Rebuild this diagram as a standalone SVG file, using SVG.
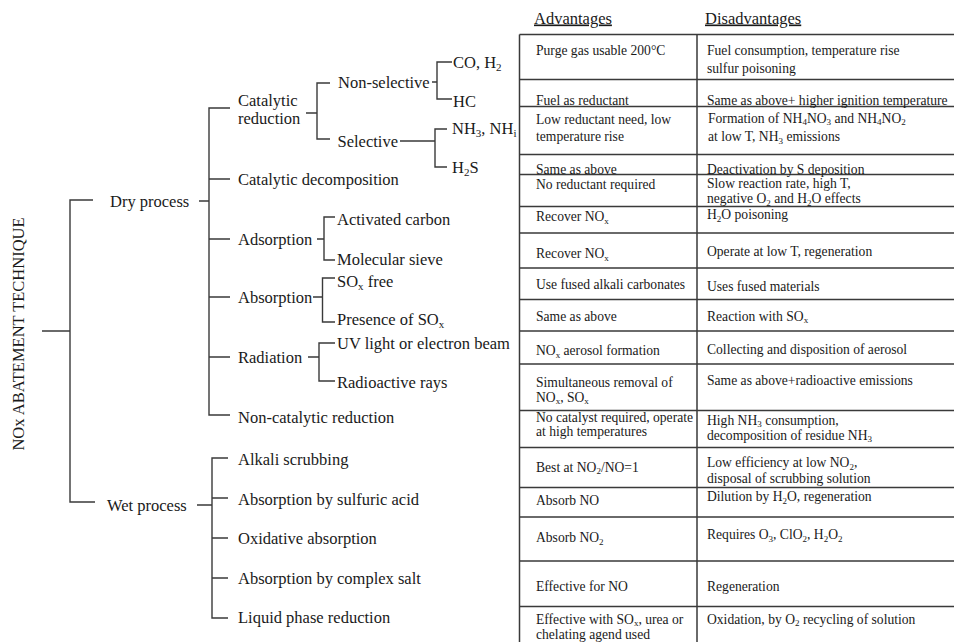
<svg xmlns="http://www.w3.org/2000/svg" width="954" height="642" viewBox="0 0 954 642">
<style>
text{font-family:"Liberation Serif","Times New Roman",serif;fill:#1a1a1a}
.t{font-size:16.5px}
.tb{font-size:13.6px}
.h{font-size:16.5px;text-decoration:underline}
.s{font-size:9px}
.st{font-size:11px}
.ln{fill:none;stroke:#3a3a3a;stroke-width:1.4}
.tl{fill:none;stroke:#3a3a3a;stroke-width:1.5}
</style>
<rect width="954" height="642" fill="#fff"/>

<g id="title"><text class="t" transform="translate(24,334) rotate(-90)" text-anchor="middle">NOx ABATEMENT TECHNIQUE</text></g>

<g id="connectors" class="ln">
<path d="M42,331H70M93,200H70V502H95"/>
<path d="M199,201H209M230,108H209V415H230M209,179H230M209,239H230M209,297H230M209,357H230"/>
<path d="M306,113H317M330,83H317V139H330"/>
<path d="M432,82H437M452,62H437V99H452"/>
<path d="M400,141H435M447,129H435V167H447"/>
<path d="M317,239H324M335,217H324V260H335"/>
<path d="M313,297H322.5M335,278H322.5V322H335"/>
<path d="M308,357H319M335,343H319V381H335"/>
<path d="M197,505H212M228,458H212V618H228M212,498H228M212,538H228M212,578H228"/>
</g>

<g id="dry"><text class="t" x="110" y="206.5">Dry process</text></g>
<g id="wet"><text class="t" x="107" y="510.5">Wet process</text></g>
<g id="catred"><text class="t" x="238" y="105.5">Catalytic</text><text class="t" x="238" y="123.5">reduction</text></g>
<g id="nonsel"><text class="t" x="338" y="87.5">Non-selective</text></g>
<g id="co"><text class="t" x="453" y="67.5">CO, H<tspan class="st" dy="3">2</tspan></text></g>
<g id="hc"><text class="t" x="453" y="106.5">HC</text></g>
<g id="sel"><text class="t" x="337.5" y="146.5">Selective</text></g>
<g id="nh3"><text class="t" x="452" y="133.5">NH<tspan class="st" dy="3">3</tspan><tspan dy="-3">, NH</tspan><tspan class="st" dy="3">i</tspan></text></g>
<g id="h2s"><text class="t" x="452" y="172.5">H<tspan class="st" dy="3">2</tspan><tspan dy="-3">S</tspan></text></g>
<g id="catdec"><text class="t" x="238" y="184.5">Catalytic decomposition</text></g>
<g id="adsorp"><text class="t" x="238" y="244.5">Adsorption</text></g>
<g id="actc"><text class="t" x="337" y="224.5">Activated carbon</text></g>
<g id="molsv"><text class="t" x="337" y="264.5">Molecular sieve</text></g>
<g id="absorp"><text class="t" x="238" y="302.5">Absorption</text></g>
<g id="soxfree"><text class="t" x="337" y="286.5">SO<tspan class="st" dy="3">x</tspan><tspan dy="-3"> free</tspan></text></g>
<g id="soxpres"><text class="t" x="337" y="324.5">Presence of SO<tspan class="st" dy="3">x</tspan></text></g>
<g id="radiation"><text class="t" x="238" y="362.5">Radiation</text></g>
<g id="uv"><text class="t" x="337" y="348.5">UV light or electron beam</text></g>
<g id="radrays"><text class="t" x="337" y="387.5">Radioactive rays</text></g>
<g id="noncat"><text class="t" x="238" y="422.5">Non-catalytic reduction</text></g>
<g id="alkali"><text class="t" x="238" y="465">Alkali scrubbing</text></g>
<g id="sulf"><text class="t" x="238" y="504.5">Absorption by sulfuric acid</text></g>
<g id="oxid"><text class="t" x="238" y="544">Oxidative absorption</text></g>
<g id="complex"><text class="t" x="238" y="583.5">Absorption by complex salt</text></g>
<g id="liquid"><text class="t" x="238" y="623">Liquid phase reduction</text></g>

<g id="table">
<path class="tl" d="M519.5,34.5V642M697,34.5V642"/>
<path class="tl" d="M519.5,34.5H954M519.5,79.5H954M519.5,106.5H954M519.5,154.5H954M519.5,174.5H954M519.5,206.5H954M519.5,233H954M519.5,268H954M519.5,299.5H954M519.5,331H954M519.5,364H954M519.5,410.5H954M519.5,447.5H954M519.5,487.5H954M519.5,517H954M519.5,561H954M519.5,606.5H954"/>
<text class="h" x="534" y="23.5">Advantages</text>
<text class="h" x="705" y="23.5">Disadvantages</text>

<text class="tb" x="536" y="55">Purge gas usable 200°C</text>
<text class="tb" x="707" y="54.5">Fuel consumption, temperature rise</text>
<text class="tb" x="707" y="72.5">sulfur poisoning</text>

<text class="tb" x="536" y="104.5">Fuel as reductant</text>
<text class="tb" x="707" y="104.5">Same as above+ higher ignition temperature</text>

<text class="tb" x="536" y="123.5">Low reductant need, low</text>
<text class="tb" x="536" y="140.5">temperature rise</text>
<text class="tb" x="708" y="122.5">Formation of NH<tspan class="s" dy="2.5">4</tspan><tspan dy="-2.5">NO</tspan><tspan class="s" dy="2.5">3</tspan><tspan dy="-2.5"> and NH</tspan><tspan class="s" dy="2.5">4</tspan><tspan dy="-2.5">NO</tspan><tspan class="s" dy="2.5">2</tspan></text>
<text class="tb" x="708" y="141">at low T, NH<tspan class="s" dy="2.5">3</tspan><tspan dy="-2.5"> emissions</tspan></text>

<text class="tb" x="536" y="173.5">Same as above</text>
<text class="tb" x="707" y="174">Deactivation by S deposition</text>

<text class="tb" x="536" y="189">No reductant required</text>
<text class="tb" x="707" y="188">Slow reaction rate, high T,</text>
<text class="tb" x="707" y="203">negative O<tspan class="s" dy="2.5">2</tspan><tspan dy="-2.5"> and H</tspan><tspan class="s" dy="2.5">2</tspan><tspan dy="-2.5">O effects</tspan></text>

<text class="tb" x="536" y="221">Recover NO<tspan class="s" dy="2.5">x</tspan></text>
<text class="tb" x="707" y="219">H<tspan class="s" dy="2.5">2</tspan><tspan dy="-2.5">O poisoning</tspan></text>

<text class="tb" x="536" y="258">Recover NO<tspan class="s" dy="2.5">x</tspan></text>
<text class="tb" x="707" y="256">Operate at low T, regeneration</text>

<text class="tb" x="536" y="289">Use fused alkali carbonates</text>
<text class="tb" x="707" y="291">Uses fused materials</text>

<text class="tb" x="536" y="320.5">Same as above</text>
<text class="tb" x="707" y="320.5">Reaction with SO<tspan class="s" dy="2.5">x</tspan></text>

<text class="tb" x="536" y="355">NO<tspan class="s" dy="2.5">x</tspan><tspan dy="-2.5"> aerosol formation</tspan></text>
<text class="tb" x="707" y="354">Collecting and disposition of aerosol</text>

<text class="tb" x="536" y="386.5">Simultaneous removal of</text>
<text class="tb" x="536" y="401.5">NO<tspan class="s" dy="2.5">x</tspan><tspan dy="-2.5">, SO</tspan><tspan class="s" dy="2.5">x</tspan></text>
<text class="tb" x="707" y="385">Same as above+radioactive emissions</text>

<text class="tb" x="536" y="421.5">No catalyst required, operate</text>
<text class="tb" x="536" y="436">at high temperatures</text>
<text class="tb" x="707" y="424.5">High NH<tspan class="s" dy="2.5">3</tspan><tspan dy="-2.5"> consumption,</tspan></text>
<text class="tb" x="707" y="439.5">decomposition of residue NH<tspan class="s" dy="2.5">3</tspan></text>

<text class="tb" x="536" y="471.5">Best at NO<tspan class="s" dy="2.5">2</tspan><tspan dy="-2.5">/NO=1</tspan></text>
<text class="tb" x="707" y="467">Low efficiency at low NO<tspan class="s" dy="2.5">2</tspan><tspan dy="-2.5">,</tspan></text>
<text class="tb" x="707" y="482.5">disposal of scrubbing solution</text>

<text class="tb" x="536" y="505">Absorb NO</text>
<text class="tb" x="707" y="501">Dilution by H<tspan class="s" dy="2.5">2</tspan><tspan dy="-2.5">O, regeneration</tspan></text>

<text class="tb" x="536" y="542">Absorb NO<tspan class="s" dy="2.5">2</tspan></text>
<text class="tb" x="707" y="539">Requires O<tspan class="s" dy="2.5">3</tspan><tspan dy="-2.5">, ClO</tspan><tspan class="s" dy="2.5">2</tspan><tspan dy="-2.5">, H</tspan><tspan class="s" dy="2.5">2</tspan><tspan dy="-2.5">O</tspan><tspan class="s" dy="2.5">2</tspan></text>

<text class="tb" x="536" y="591">Effective for NO</text>
<text class="tb" x="707" y="591">Regeneration</text>

<text class="tb" x="536" y="623.5">Effective with SO<tspan class="s" dy="2.5">x</tspan><tspan dy="-2.5">, urea or</tspan></text>
<text class="tb" x="536" y="638.5">chelating agend used</text>
<text class="tb" x="707" y="623.5">Oxidation, by O<tspan class="s" dy="2.5">2</tspan><tspan dy="-2.5"> recycling of solution</tspan></text>
</g>
</svg>
